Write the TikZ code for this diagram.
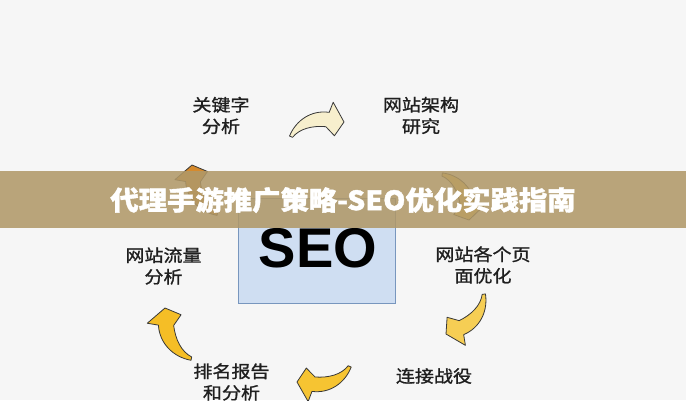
\documentclass[tikz,border=0pt]{standalone}
\usepackage{fontspec}
\newfontfamily\cjk[FakeStretch=1.12, FakeBold=1.2]{Noto Sans CJK SC}
\newfontfamily\cjktitle[FakeStretch=1.07, FakeBold=1.5]{Noto Sans CJK SC}
\newfontfamily\seofont{Liberation Sans}
\definecolor{bgc}{RGB}{246,246,246}
\definecolor{bannerc}{RGB}{176,152,104}
\definecolor{boxfill}{RGB}{207,222,242}
\definecolor{boxline}{RGB}{120,150,190}
\definecolor{creamc}{RGB}{247,239,205}
\definecolor{yellowA}{RGB}{246,206,84}
\definecolor{yellowB}{RGB}{246,196,50}
\definecolor{yellowC}{RGB}{245,190,38}
\definecolor{orangec}{RGB}{214,138,44}
\tikzset{
  lbl/.style={font=\cjk\fontsize{17}{21.5}\selectfont, align=center, text=black!88, inner sep=0pt},
  carrow/.style={draw=black!78, line width=0.8pt, line join=round},
}
\newcommand\SeoArrow[5]{%
  \begin{scope}[shift={(#1,#2)}, rotate=#3, scale=#5]
    \path[carrow, fill=#4] (-51,18) .. controls (-46,2) and (-32,-9) .. (-15,-8)
      -- (-12,-18) -- (0,0) -- (-8,14) -- (-17,6)
      .. controls (-30,6) and (-42,10) .. (-48,19) -- cycle;
  \end{scope}}
\begin{document}
\begin{tikzpicture}[x=1pt, y=-1pt]
  \useasboundingbox (0,0) rectangle (686,400);
  \fill[bgc] (0,0) rectangle (686,400);
  % SEO box
  \draw[boxline, fill=boxfill, line width=1pt] (238,198) rectangle (395,303);
  \node[font=\seofont\bfseries\fontsize{56}{56}\selectfont, inner sep=0pt] (seo) at (318,248) {SEO};
  % arrows
  \SeoArrow{344}{122}{-5}{creamc}{1.04}
  \SeoArrow{469}{220}{-80}{yellowA}{1}
  \SeoArrow{446}{334}{206}{yellowA}{1.04}
  \SeoArrow{297}{382}{176}{yellowB}{1.04}
  \SeoArrow{165}{308}{97}{yellowC}{1.08}
  \SeoArrow{192}{165}{97}{orangec}{1.04}
  % labels
  \node[lbl] (kw) at (221,115.5) {关键字\\分析};
  \node[lbl] (arch) at (421,115.5) {网站架构\\研究};
  \node[lbl] (traffic) at (163.5,266) {网站流量\\分析};
  \node[lbl] (page) at (483,265) {网站各个页\\面优化};
  \node[lbl] (rank) at (231.5,382) {排名报告\\和分析};
  \node[lbl] (link) at (434,376) {连接战役};
  % banner
  \fill[bannerc, fill opacity=0.87] (0,171) rectangle (686,228);
  \node[font=\cjktitle\bfseries\fontsize{26.5}{26.5}\selectfont, text=white, inner sep=0pt] (title) at (343,200) {代理手游推广策略-SEO优化实践指南};
\end{tikzpicture}
\end{document}
